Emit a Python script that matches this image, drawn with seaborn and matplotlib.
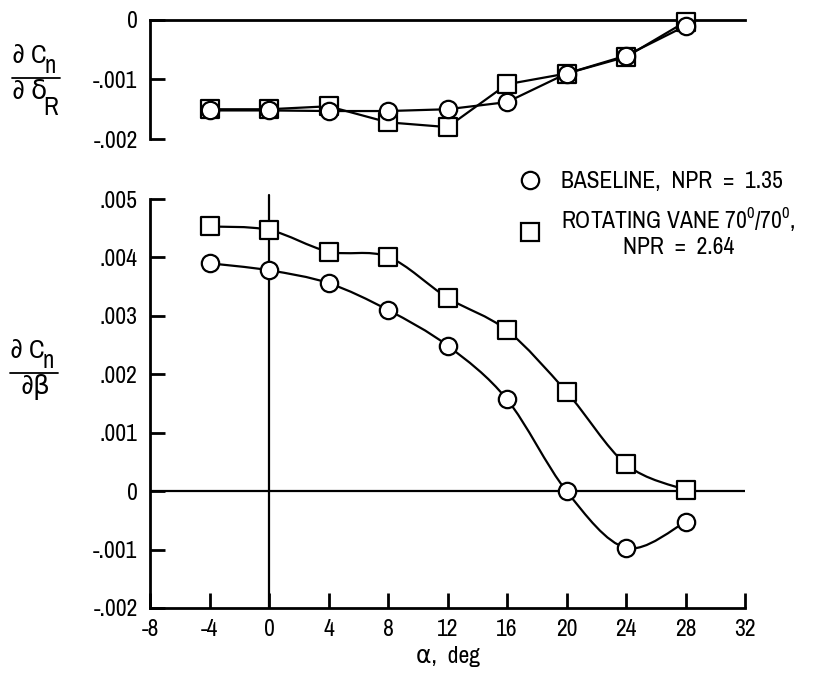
import numpy as np
import pandas as pd
import seaborn as sns
import matplotlib
matplotlib.use("Agg")
import matplotlib.pyplot as plt
from matplotlib.path import Path
from matplotlib.patches import PathPatch
from matplotlib.lines import Line2D

# ---------------- data ----------------
alpha = [-4, 0, 4, 8, 12, 16, 20, 24, 28]
top_baseline = [-0.00152, -0.00152, -0.00153, -0.00153, -0.0015, -0.00138, -0.0009, -0.0006, -0.0001]
top_vane = [-0.0015, -0.0015, -0.00145, -0.00172, -0.0018, -0.00108, -0.0009, -0.00062, -0.00003]
bot_baseline = [0.0039, 0.00378, 0.00356, 0.0031, 0.00249, 0.00157, 0.0, -0.00097, -0.00053]
bot_vane = [0.00453, 0.00447, 0.0041, 0.00401, 0.00331, 0.00275, 0.0017, 0.00046, 0.00002]

xticks = [-8, -4, 0, 4, 8, 12, 16, 20, 24, 28, 32]
xticklabels = ["-8", "-4", "0", "4", "8", "12", "16", "20", "24", "28", "32"]
top_yticks = [0, -0.001, -0.002]
top_yticklabels = ["0", "-.001", "-.002"]
bot_yticks = [0.005, 0.004, 0.003, 0.002, 0.001, 0, -0.001, -0.002]
bot_yticklabels = [".005", ".004", ".003", ".002", ".001", "0", "-.001", "-.002"]

label_base = "BASELINE,  NPR  =  1.35"
label_vane = "ROTATING VANE 70$^{\\mathrm{0}}$/70$^{\\mathrm{0}}$,\nNPR  =  2.64"
xlabel = "α,  deg"

# ---------------- style ----------------
sns.set_style("ticks")
FONT = ["Archivo Narrow", "DejaVu Sans"]
plt.rcParams["font.family"] = FONT
plt.rcParams["mathtext.fontset"] = "custom"
plt.rcParams["mathtext.rm"] = "Archivo Narrow"
plt.rcParams["mathtext.it"] = "Archivo Narrow"
plt.rcParams["mathtext.bf"] = "Archivo Narrow"
plt.rcParams["mathtext.fallback"] = "stixsans"
plt.rcParams["mathtext.default"] = "rm"
for k in ["text.color", "axes.labelcolor", "xtick.color", "ytick.color", "axes.edgecolor"]:
    plt.rcParams[k] = "black"

FS = 17
LW = 1.6
MS = 12.5

fig = plt.figure(figsize=(8.27, 6.73), dpi=100)
W, H = 827, 673


def fx(x):
    return x / W


def fy(y):
    return 1 - y / H


def axes_px(x0, x1, ytop, ybot):
    return fig.add_axes([fx(x0), fy(ybot), (x1 - x0) / W, (ybot - ytop) / H])


ax_top = axes_px(150, 745, 20, 139)
ax_bot = axes_px(150, 745, 199, 608)

df_top = pd.DataFrame({"alpha": alpha * 2,
                       "val": top_baseline + top_vane,
                       "cfg": ["base"] * len(alpha) + ["vane"] * len(alpha)})
df_bot = pd.DataFrame({"alpha": alpha * 2,
                       "val": bot_baseline + bot_vane,
                       "cfg": ["base"] * len(alpha) + ["vane"] * len(alpha)})


def smooth_path(xs, ys):
    """Catmull-Rom spline through the data points, drawn as cubic Bezier."""
    P = np.column_stack([np.asarray(xs, float), np.asarray(ys, float)])
    n = len(P)
    verts = [P[0]]
    codes = [Path.MOVETO]
    for i in range(n - 1):
        p0 = P[i - 1] if i > 0 else P[i]
        p1 = P[i]
        p2 = P[i + 1]
        p3 = P[i + 2] if i + 2 < n else P[i + 1]
        verts += [p1 + (p2 - p0) / 6.0, p2 - (p3 - p1) / 6.0, p2]
        codes += [Path.CURVE4] * 3
    return Path(verts, codes)


def markers(ax, df):
    sns.scatterplot(data=df[df.cfg == "vane"], x="alpha", y="val", ax=ax,
                    marker="s", s=MS ** 2, facecolor="white", edgecolor="black",
                    linewidth=LW, zorder=3, legend=False, clip_on=False)
    sns.scatterplot(data=df[df.cfg == "base"], x="alpha", y="val", ax=ax,
                    marker="o", s=MS ** 2, facecolor="white", edgecolor="black",
                    linewidth=LW, zorder=4, legend=False, clip_on=False)


# ---------------- top panel ----------------
ax = ax_top
for cfg in ["base", "vane"]:
    sub = df_top[df_top.cfg == cfg]
    sns.lineplot(data=sub, x="alpha", y="val", ax=ax, color="black", lw=LW,
                 estimator=None, sort=True, legend=False, zorder=2)
markers(ax, df_top)
ax.set_xlim(-8, 32)
ax.set_ylim(-0.002, 0)
ax.set_yticks(top_yticks)
ax.set_yticklabels(top_yticklabels)
ax.set_xticks([])
for s in ["bottom", "right"]:
    ax.spines[s].set_visible(False)
for s in ["left", "top"]:
    ax.spines[s].set_linewidth(2.0)
ax.tick_params(axis="y", direction="in", length=11, width=2.0, pad=9, labelsize=FS)
ax.set_xlabel("")
ax.set_ylabel("")
ax.patch.set_alpha(0)

# ---------------- bottom panel ----------------
ax = ax_bot
ax.axhline(0, color="black", lw=LW, zorder=1)
ax.plot([0, 0], [-0.002, 0.00507], color="black", lw=LW, zorder=1, clip_on=False)
for cfg in ["base", "vane"]:
    sub = df_bot[df_bot.cfg == cfg]
    ax.add_patch(PathPatch(smooth_path(sub.alpha, sub.val), facecolor="none",
                           edgecolor="black", lw=LW, zorder=2))
markers(ax, df_bot)
ax.set_xlim(-8, 32)
ax.set_ylim(-0.002, 0.005)
ax.set_xticks(xticks)
ax.set_xticklabels(xticklabels)
ax.set_yticks(bot_yticks)
ax.set_yticklabels(bot_yticklabels)
for s in ["top", "right"]:
    ax.spines[s].set_visible(False)
for s in ["left", "bottom"]:
    ax.spines[s].set_linewidth(2.0)
ax.tick_params(axis="both", direction="in", length=11, width=2.0, labelsize=FS)
ax.tick_params(axis="y", pad=9)
ax.tick_params(axis="x", pad=8)
ax.set_xlabel(xlabel, fontsize=FS, labelpad=4)
ax.set_ylabel("")
ax.patch.set_alpha(0)

# ---------------- y-axis fraction labels ----------------
NUM = 19
SUB = 18


def frac(x0, ybar, x1, denom, denom_sub, den_x):
    fig.text(fx(x0), fy(ybar - 15), "∂ C", fontsize=NUM, va="baseline", ha="left")
    fig.text(fx(x0 + 33), fy(ybar - 5), "n", fontsize=SUB, va="baseline", ha="left")
    fig.add_artist(Line2D([fx(x0), fx(x1)], [fy(ybar), fy(ybar)], color="black", lw=1.3))
    fig.text(fx(den_x), fy(ybar + 21), denom, fontsize=NUM, va="baseline", ha="left")
    if denom_sub:
        fig.text(fx(x0 + 31), fy(ybar + 37), denom_sub, fontsize=SUB, va="baseline", ha="left")


frac(12, 78, 60, "∂ δ", "R", 12)
frac(10, 373, 58, "∂β", None, 21)

# ---------------- legend ----------------
handles = [
    Line2D([], [], ls="none", marker="o", ms=MS, mfc="white", mec="black", mew=LW),
    Line2D([], [], ls="none", marker="s", ms=MS, mfc="white", mec="black", mew=LW),
]
leg = fig.legend(handles, [label_base, label_vane], loc="upper left",
                 bbox_to_anchor=(fx(509), fy(162)), frameon=False,
                 fontsize=FS, handlelength=1.0, handletextpad=0.8,
                 labelspacing=0.55, borderaxespad=0)
for t in leg.get_texts():
    t.set_multialignment("center")

fig.savefig("out.png", dpi=100)
